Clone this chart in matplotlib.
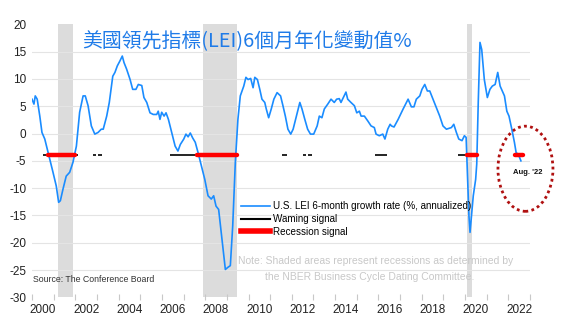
import matplotlib
matplotlib.use("Agg")
import matplotlib.pyplot as plt
from matplotlib.lines import Line2D
from matplotlib.patches import Ellipse

# ---------------- data ----------------
lei_dates = [2000.00, 2000.09, 2000.15, 2000.24, 2000.36, 2000.46, 2000.59, 2000.74, 2000.97,
             2001.12, 2001.23, 2001.31, 2001.43, 2001.58, 2001.74, 2001.89, 2002.05, 2002.20,
             2002.36, 2002.46, 2002.59, 2002.74, 2002.90, 2003.05, 2003.20, 2003.29, 2003.45,
             2003.57, 2003.73, 2003.83, 2003.94, 2004.06, 2004.17, 2004.25, 2004.37, 2004.53,
             2004.65, 2004.80, 2004.91, 2005.07, 2005.17, 2005.30, 2005.45, 2005.60, 2005.76,
             2005.83, 2005.91, 2005.99, 2006.10, 2006.19, 2006.30, 2006.45, 2006.61, 2006.74,
             2006.85, 2007.01, 2007.11, 2007.21, 2007.31, 2007.42, 2007.54, 2007.67, 2007.82,
             2007.98, 2008.13, 2008.28, 2008.39, 2008.50, 2008.62, 2008.74, 2008.85, 2008.93,
             2009.05, 2009.16, 2009.27, 2009.39, 2009.51, 2009.62, 2009.78, 2009.88, 2009.98,
             2010.10, 2010.21, 2010.29, 2010.41, 2010.52, 2010.62, 2010.75, 2010.82, 2010.93,
             2011.05, 2011.17, 2011.32, 2011.48, 2011.59, 2011.70, 2011.82, 2011.95, 2012.06,
             2012.21, 2012.37, 2012.47, 2012.60, 2012.73, 2012.86, 2013.01, 2013.17, 2013.27,
             2013.39, 2013.50, 2013.66, 2013.81, 2013.96, 2014.07, 2014.19, 2014.27, 2014.38,
             2014.50, 2014.58, 2014.73, 2014.89, 2015.00, 2015.12, 2015.20, 2015.35, 2015.51,
             2015.66, 2015.81, 2015.89, 2016.04, 2016.20, 2016.30, 2016.43, 2016.54, 2016.60,
             2016.72, 2016.91, 2017.14, 2017.37, 2017.52, 2017.64, 2017.75, 2017.91, 2018.01,
             2018.14, 2018.26, 2018.37, 2018.52, 2018.67, 2018.83, 2018.98, 2019.14, 2019.37,
             2019.48, 2019.60, 2019.71, 2019.86, 2019.97, 2020.05, 2020.12, 2020.18, 2020.23,
             2020.31, 2020.38, 2020.49, 2020.54, 2020.61, 2020.69, 2020.77, 2020.89, 2021.03,
             2021.15, 2021.26, 2021.39, 2021.51, 2021.62, 2021.82, 2021.93, 2022.03, 2022.16,
             2022.28, 2022.36, 2022.46, 2022.58]
lei_values = [6.3, 5.4, 6.9, 6.3, 3.2, 0.2, -1.0, -3.4, -7.1,
              -9.6, -12.6, -12.3, -10.2, -7.8, -7.1, -5.3, -2.3, 3.9,
              6.9, 6.9, 5.1, 1.4, -0.1, 0.2, 0.8, 0.8, 3.2,
              5.7, 10.5, 11.2, 12.4, 13.3, 14.2, 13.0, 11.8, 9.9,
              8.1, 8.1, 9.0, 8.8, 6.6, 5.7, 3.8, 3.5, 3.5,
              4.1, 2.6, 3.9, 3.2, 3.8, 2.6, 0.2, -2.3, -3.2,
              -2.0, -1.0, -0.1, -0.6, 0.1, -0.8, -1.6, -3.5, -5.9,
              -8.4, -11.4, -12.0, -11.4, -13.3, -13.9, -18.1, -21.8, -24.9,
              -24.5, -24.2, -16.9, -5.3, 2.6, 6.9, 8.7, 10.3, 9.9,
              10.1, 8.4, 10.3, 9.9, 8.1, 6.3, 5.7, 4.5, 2.9,
              4.5, 6.3, 7.5, 6.9, 5.1, 3.2, 0.8, -0.1, 0.8,
              3.2, 5.7, 4.5, 2.6, 0.8, -0.1, -0.1, 1.4, 3.2,
              2.9, 4.5, 5.4, 6.3, 5.7, 6.3, 6.4, 5.7, 6.6,
              7.6, 6.3, 5.7, 5.1, 3.8, 4.1, 3.2, 3.2, 2.3,
              1.4, 1.1, -0.1, -0.4, -0.1, -1.0, 0.8, 1.7, 1.4,
              1.2, 2.6, 4.5, 6.3, 4.9, 4.9, 6.3, 6.9, 8.1,
              9.0, 7.8, 7.8, 6.3, 4.8, 3.2, 1.4, 0.8, 1.1,
              1.7, 0.2, -1.0, -1.3, -0.4, -0.7, -8.4, -15.1, -18.1,
              -14.5, -11.4, -8.4, -5.6, 5.7, 16.7, 15.4, 9.9, 6.6,
              8.1, 8.7, 9.0, 11.2, 8.7, 6.9, 4.1, 3.2, 0.8,
              -1.6, -3.5, -3.8, -5.0]

nber_starts = [2001.20, 2007.92, 2020.08]
nber_ends = [2001.88, 2009.46, 2020.30]

signal_level = -3.9
warning_starts = [2000.52, 2002.83, 2003.05, 2006.37, 2011.53, 2012.53, 2012.75, 2015.84, 2019.69, 2022.25]
warning_ends = [2002.14, 2002.95, 2003.22, 2007.61, 2011.76, 2012.65, 2012.92, 2016.38, 2020.08, 2022.45]
recession_starts = [2000.75, 2007.61, 2020.08, 2022.31]
recession_ends = [2001.99, 2009.45, 2020.54, 2022.69]

year_ticks = list(range(2000, 2024))
year_labels = [str(y) for y in range(2000, 2023, 2)]
y_ticks = [20, 15, 10, 5, 0, -5, -10, -15, -20, -25, -30]

title = "美國領先指標(LEI)6個月年化變動值%"
legend_labels = ["U.S. LEI 6-month growth rate (%, annualized)", "Waming signal", "Recession signal"]
note_lines = ["Note: Shaded areas represent recessions as determined by",
              "the NBER Business Cycle Dating Committee."]
source_text = "Source: The Conference Board"
last_label = "Aug. '22"

# ---------------- figure ----------------
W, H = 564, 323
plt.rcParams['font.family'] = ['Liberation Sans', 'DejaVu Sans']
fig = plt.figure(figsize=(W / 100, H / 100), dpi=100)
fig.patch.set_facecolor('white')

L, R, T, B = 32, 530, 24.4, 297.3
ax = fig.add_axes([L / W, 1 - B / H, (R - L) / W, (B - T) / H])
ax.set_xlim(2000, 2023)
ax.set_ylim(-30, 20)

for s in ax.spines.values():
    s.set_visible(False)

# recession shading
for a, b in zip(nber_starts, nber_ends):
    ax.axvspan(a, b, color='#dcdcdc', lw=0, zorder=0)

# grid
ax.set_yticks(y_ticks)
ax.set_yticklabels([str(v) for v in y_ticks])
ax.yaxis.grid(True, color='#e4e4e4', lw=0.8, zorder=0.5)
ax.tick_params(axis='y', length=0, pad=4, labelsize=8.5, labelcolor='#222222')
gl = ax.yaxis.get_gridlines()
gl[0].set_visible(False)
gl[-1].set_visible(False)

# x ticks: marks at year boundaries, labels mid-year
ax.set_xticks(year_ticks)
ax.set_xticklabels([])
ax.tick_params(axis='x', which='major', length=4, direction='inout', color='#c8c8c8', width=0.8)
ax.set_xticks([int(l) + 0.5 for l in year_labels], minor=True)
ax.set_xticklabels(year_labels, minor=True)
ax.tick_params(axis='x', which='minor', length=0, pad=5, labelsize=8.5, labelcolor='#222222')

# signals
for a, b in zip(warning_starts, warning_ends):
    ax.plot([a, b], [signal_level, signal_level], color='black', lw=1.2, solid_capstyle='butt', zorder=2)

# LEI line
ax.plot(lei_dates, lei_values, color='#1a8cff', lw=1.2, zorder=3)

for a, b in zip(recession_starts, recession_ends):
    ax.plot([a, b], [signal_level, signal_level], color='#ff0000', lw=3.2, solid_capstyle='round', zorder=4)

# legend
handles = [Line2D([], [], color='#1a8cff', lw=1.2),
           Line2D([], [], color='black', lw=1.5),
           Line2D([], [], color='#ff0000', lw=4)]
leg = fig.legend(handles, legend_labels, loc='upper left',
                 bbox_to_anchor=(241 / W, 1 - 201 / H), frameon=False,
                 fontsize=7.1, handlelength=2.9, handletextpad=0.3,
                 labelspacing=0.3, borderpad=0, borderaxespad=0)

# note & source
fig.text(376 / W, 1 - 261 / H, note_lines[0], ha='center', va='center', fontsize=7.5, color='#c8c8c8')
fig.text(370 / W, 1 - 277 / H, note_lines[1], ha='center', va='center', fontsize=7.5, color='#c8c8c8')
fig.text(33 / W, 1 - 280 / H, source_text, ha='left', va='center', fontsize=6.3, color='#333333')

# title
fig.text(82 / W, 1 - 41.5 / H, title, ha='left', va='center', fontsize=14.3,
         color='#1f7be8', family=['Noto Sans CJK TC', 'DejaVu Sans'])

# highlight ellipse + last label
ell = Ellipse((2022.79, -6.45), 2.54, 15.6, fill=False, edgecolor='#b01010',
              lw=2, linestyle=(0, (1, 1.2)), clip_on=False, zorder=5)
ax.add_patch(ell)
ax.text(2022.9, -7.1, last_label, ha='center', va='center', fontsize=5.5,
        fontweight='bold', color='#111111', zorder=6)

fig.savefig('out.png', dpi=100)
